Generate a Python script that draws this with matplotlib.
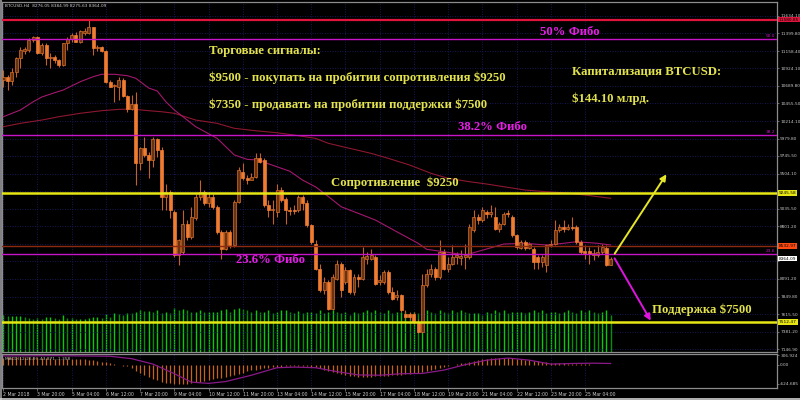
import matplotlib
matplotlib.use('Agg')
import matplotlib.pyplot as plt
import matplotlib.transforms as mtransforms

W, H = 800, 400

# ---------------- data ----------------
opens = [10767, 10812, 10758, 10879, 11059, 11162, 11171, 11306, 11342, 11126,
         11239, 11059, 11081, 11036, 10969, 11261, 11324, 11373, 11283, 11405,
         11396, 11477, 11194, 11216, 11162, 10745, 10686, 10677, 10767, 10552,
         10372, 10439, 9645, 9847, 9757, 9689, 9968, 9824, 9196, 9263,
         8994, 8410, 8455, 8836, 8657, 8904, 9196, 9263, 9106, 9196,
         9061, 8724, 8500, 8724, 8545, 9128, 9532, 9443, 9420, 9465,
         9712, 9689, 9083, 9016, 8994, 9285, 9173, 9025, 9016, 9016,
         9187, 9106, 8814, 8567, 8230, 7938, 8051, 7691, 8096, 8298,
         8051, 8208, 7916, 8118, 8096, 8365, 8365, 8387, 8051, 8051,
         8185, 7916, 7849, 7871, 7624, 7615, 7615, 7512, 7377, 8006,
         8163, 8230, 8118, 8455, 8230, 8298, 8387, 8378, 8387, 8387,
         8747, 8926, 8881, 8994, 8962, 8926, 8769, 8836, 8971, 8926,
         8679, 8513, 8589, 8513, 8500, 8387, 8320, 8275, 8545, 8567,
         8747, 8791, 8769, 8791, 8791, 8589, 8468, 8468, 8410, 8410,
         8455, 8513, 8276.05]
highs = [10902, 10834, 10924, 11081, 11216, 11207, 11328, 11360, 11360, 11261,
         11261, 11126, 11104, 11045, 11270, 11351, 11396, 11418, 11441, 11463,
         11575, 11485, 11239, 11225, 11171, 10767, 10713, 10812, 10790, 10565,
         10565, 10610, 9869, 10004, 9802, 10004, 9981, 9869, 9375, 9285,
         9016, 8634, 9016, 8881, 9061, 9240, 9420, 9285, 9263, 9240,
         9083, 8747, 8747, 8747, 9151, 9600, 9645, 9487, 9510, 9779,
         9779, 9712, 9151, 9151, 9375, 9330, 9196, 9061, 9083, 9218,
         9218, 9151, 8836, 8612, 8298, 8118, 8073, 8163, 8342, 8320,
         8253, 8230, 8163, 8163, 8522, 8455, 8500, 8410, 8140, 8208,
         8208, 7983, 7938, 7893, 7669, 7647, 7647, 7557, 8163, 8230,
         8298, 8253, 8612, 8500, 8387, 8545, 8455, 8477, 8567, 8836,
         9016, 8971, 9061, 9016, 9083, 9061, 8859, 8994, 9016, 8949,
         8702, 8612, 8612, 8589, 8522, 8410, 8410, 8567, 8612, 8881,
         8836, 8881, 8836, 8926, 8814, 8612, 8545, 8522, 8500, 8545,
         8567, 8545, 8384.99]
lows = [10677, 10632, 10700, 10812, 10924, 11117, 11149, 11283, 11117, 11104,
        10969, 10924, 10992, 10947, 10956, 11171, 11283, 11274, 11270, 11373,
        11387, 11104, 11162, 11149, 10731, 10668, 10475, 10498, 10534, 10341,
        10363, 9353, 9555, 9734, 9443, 9600, 9734, 9016, 9016, 8904,
        8387, 8275, 8432, 8612, 8634, 8881, 9151, 9083, 9061, 9038,
        8702, 8365, 8477, 8513, 8522, 9106, 9420, 9375, 9443, 9443,
        9645, 9061, 8926, 8836, 8926, 9128, 8836, 8949, 8971, 8994,
        9016, 8791, 8567, 8208, 7916, 7893, 7669, 7669, 8073, 7849,
        8028, 7893, 7871, 7983, 8073, 8298, 8342, 8006, 8006, 8028,
        7893, 7804, 7804, 7647, 7557, 7543, 7489, 7364, 7364, 7983,
        8118, 8073, 8096, 8208, 8185, 8275, 8298, 8275, 8230, 8365,
        8724, 8836, 8859, 8904, 8926, 8747, 8724, 8814, 8926, 8657,
        8500, 8500, 8477, 8500, 8230, 8230, 8253, 8185, 8522, 8545,
        8724, 8724, 8747, 8747, 8567, 8432, 8365, 8298, 8342, 8387,
        8432, 8262, 8275.63]
closes = [10812, 10758, 10879, 11059, 11171, 11180, 11306, 11342, 11126, 11239,
          11059, 11081, 11036, 10969, 11261, 11315, 11373, 11283, 11427, 11432,
          11477, 11194, 11216, 11162, 10745, 10677, 10700, 10767, 10552, 10372,
          10439, 9645, 9847, 9757, 9689, 9968, 9824, 9196, 9263, 9016,
          8410, 8612, 8836, 8657, 8926, 9196, 9263, 9106, 9196, 9061,
          8724, 8500, 8724, 8545, 9128, 9555, 9443, 9420, 9465, 9712,
          9667, 9083, 9016, 9038, 9285, 9151, 9016, 9007, 9007, 9187,
          9106, 8814, 8589, 8230, 7938, 8051, 7691, 8118, 8298, 7938,
          8208, 7916, 8118, 8096, 8387, 8396, 8410, 8028, 8073, 8185,
          7916, 7826, 7871, 7669, 7579, 7579, 7512, 7377, 8006, 8163,
          8230, 8118, 8455, 8230, 8298, 8387, 8410, 8396, 8410, 8791,
          8926, 8881, 9025, 8962, 8994, 8769, 8836, 8971, 8962, 8679,
          8522, 8589, 8513, 8567, 8320, 8320, 8387, 8545, 8567, 8747,
          8791, 8769, 8791, 8782, 8589, 8455, 8441, 8432, 8441, 8455,
          8522, 8275, 8364.09]
volumes = [11100, 10800, 10800, 10800, 10800, 10400, 10100, 9800, 10100, 9800,
           10400, 10400, 10100, 9800, 11100, 10100, 10100, 9800, 9800, 9800,
           10100, 10600, 10600, 10100, 11400, 10600, 11600, 11400, 11100, 11800,
           11600, 12100, 12600, 12300, 12300, 12100, 12600,
           11600, 12100, 11600, 13100, 12600, 12800, 12600, 12100, 12100, 12600,
           12100, 12100, 12100, 12100, 12600, 12800, 12100, 12800, 13100, 12800,
           12600, 12100, 12600, 12100, 12100, 12600, 11600, 12100, 12600, 12600,
           12100, 11600, 12300, 11600, 12100, 12100,
           11600, 12600, 11600, 12100, 12600, 12100, 11600, 12100, 11100, 12100,
           11600, 12100, 12600, 12100, 12600, 12100, 11600, 12600, 11600, 12100,
           12100, 12100, 11600, 12100, 11600, 12100, 12600, 12100, 11600, 12600,
           12100, 11600, 12600, 12100, 12600, 12100, 11600,
           11600, 11600, 11100, 12100, 11600, 12600, 12100, 12600, 11600, 12100,
           12100, 12100, 11600, 12100, 12600, 12100, 12600, 11600, 12100, 12100,
           11600, 12100, 12600, 12100, 11600, 12600, 12100, 12600, 12100, 11600,
           12100, 12600, 11100]

# moving averages read at sample bars
ma_fast_bars = [0, 4, 7, 9, 12, 14, 18, 21, 23, 26, 29, 31, 34, 36, 38, 40, 42, 45, 50,
                54, 57, 60, 62, 67, 70, 73, 76, 79, 84, 87, 92, 97, 99, 103, 108, 113,
                117, 122, 127, 131, 134, 139, 142]
ma_fast_vals = [10274, 10364, 10476, 10539, 10597, 10633, 10745, 10812, 10845, 10845,
                10826, 10791, 10660, 10620, 10476, 10364, 10274, 10139, 9983, 9760,
                9700, 9690, 9640, 9540, 9420, 9330, 9200, 9062, 8951, 8883, 8726,
                8570, 8489, 8457, 8412, 8493, 8560, 8570, 8547, 8570, 8591, 8570, 8547]
ma_slow_bars = [0, 4, 9, 13, 18, 23, 27, 30, 34, 37, 40, 45, 50, 54, 59, 64, 68, 73,
                76, 81, 86, 90, 95, 100, 104, 109, 113, 117, 122, 127, 131, 136, 142]
ma_slow_vals = [10139, 10185, 10229, 10274, 10320, 10355, 10373, 10377, 10355, 10341,
                10320, 10229, 10185, 10118, 10085, 10058, 10027, 9983, 9916, 9848,
                9781, 9714, 9624, 9512, 9445, 9399, 9368, 9332, 9287, 9264, 9251,
                9220, 9176]

# MACD histogram per bar and signal line at sample bars
macd_hist = [230, 240, 245, 250, 255, 250, 250, 245, 240,
             230, 220, 210, 205, 200, 200, 195, 195, 190, 185,
             175, 160, 140, 120, 100, 80,
             50, 20, 0, -30, -60, -100,
             -200, -280, -350, -420, -470, -520, -560, -600, -620,
             -640, -650, -640, -630, -610, -590, -560,
             -530, -500, -470, -450, -430, -400, -370, -340, -300,
             -260, -220, -190, -160, -130, -110, -100,
             -90, -80, -70, -60, -60, -60, -55, -55, -60, -70, -90,
             -120, -160, -200, -240, -270, -300, -330, -360, -380, -400, -410, -410,
             -400, -390, -380, -370, -360, -350, -340, -330,
             -320, -300, -280, -260, -230, -200, -170,
             -140, -110, -80, -50, -20,
             10, 40, 70, 100, 130, 160, 180, 200, 215, 225, 230, 230, 225, 215, 200,
             185, 170, 150, 130,
             110, 95, 80, 65, 55, 45, 40, 35, 30,
             25, 20, 15, 10, 5, 0, -5, -10, -15]
sig_bars = [0, 12, 25, 30, 35, 40, 44, 48, 52, 58, 64, 68, 73, 78, 83, 88, 93, 98,
            103, 108, 113, 118, 123, 128, 133, 138, 142]
sig_vals = [290, 300, 280, 200, 20, -300, -580, -620, -560, -350, -100, -80, -100,
            -230, -340, -350, -300, -290, -180, 0, 150, 220, 150, 20, 40, 50, 40]

time_tick_bars = [0, 8, 16, 24, 32, 40, 48, 56, 64, 72, 80, 88, 96, 104, 112, 120, 128, 136]
time_tick_labels = ['2 Mar 2018', '3 Mar 20:00', '5 Mar 04:00', '6 Mar 12:00', '7 Mar 20:00',
                    '9 Mar 04:00', '10 Mar 12:00', '11 Mar 20:00', '13 Mar 04:00',
                    '14 Mar 12:00', '15 Mar 20:00', '17 Mar 04:00', '18 Mar 12:00',
                    '19 Mar 20:00', '21 Mar 04:00', '22 Mar 12:00', '23 Mar 20:00',
                    '25 Mar 04:00']
price_ticks = [11634.10, 11399.80, 11158.40, 10924.10, 10689.80, 10455.50, 10214.10,
               9979.80, 9745.50, 9504.10, 9270.00, 9035.50, 8801.20, 8566.90, 8325.50,
               8091.20, 7849.80, 7615.50, 7381.20, 7146.90]
hidden_ticks = [9270.00, 8566.90, 8325.50]

level_top = 11580.85
fib_50 = 11320
fib_382 = 10027
fib_236 = 8430
resistance = 9245.58
support = 7512.47
ref_level = 8532.97
last_price = 8364.09
buy_target = 9530
sell_target = 7497

# ---------------- figure ----------------
fig = plt.figure(figsize=(8, 4), dpi=100, facecolor='black')
small_font = 'DejaVu Sans'
SMALL = 3.05


def fx(x):
    return x / W


def fy(y):
    return 1 - y / H


main_l, main_r, main_t, main_b = 2, 777, 2, 352
ax = fig.add_axes([fx(main_l), fy(main_b), fx(main_r - main_l), (main_b - main_t) / H])
vax = ax.twinx()
ax.set_zorder(2)
vax.set_zorder(1)
ax.patch.set_visible(False)
vax.patch.set_facecolor('black')

mac_t, mac_b = 354, 388
ax2 = fig.add_axes([fx(main_l), fy(mac_b), fx(main_r - main_l), (mac_b - mac_t) / H])
ax2.set_facecolor('black')

XLIM = (-0.3, 180.9)
n = len(closes)
idx = list(range(n))

# volumes
vcols = []
for i, v in enumerate(volumes):
    vcols.append('#00d000' if (i == 0 or v >= volumes[i - 1]) else '#009400')
vax.vlines(idx, 0, volumes, colors=vcols, lw=1.0)
vax.set_ylim(0, 105000)
vax.set_yticks([])
vax.set_xlim(*XLIM)

# candles
wick_col = '#c0622a'
ax.vlines(idx, lows, highs, colors=wick_col, lw=0.8, zorder=3)
for i in idx:
    o, c = opens[i], closes[i]
    bot = min(o, c)
    hgt = max(abs(c - o), 12)
    if c >= o:
        fc, ec = '#6a3210', '#d8702c'
    else:
        fc, ec = '#f07c32', '#f07c32'
    ax.bar(i, hgt, bottom=bot, width=0.7, facecolor=fc, edgecolor=ec, lw=0.5, zorder=4)

# moving averages
ax.plot(ma_slow_bars, ma_slow_vals, color='#8c1830', lw=0.8, zorder=3)
ax.plot(ma_fast_bars, ma_fast_vals, color='#a3186e', lw=0.8, zorder=3)

# horizontal levels
ax.axhline(level_top, color='#e0143c', lw=1.6, zorder=5)
for lv in (fib_50, fib_382, fib_236):
    ax.axhline(lv, color='#c814c8', lw=1.0, zorder=5)
ax.axhline(ref_level, color='#8b2a10', lw=1.0, zorder=5)
ax.axhline(resistance, color='#e6e614', lw=1.8, zorder=5)
ax.axhline(support, color='#e6e614', lw=1.8, zorder=5)

ax.set_xlim(*XLIM)
ax.set_ylim(7107, 11818)

# grid
grid_col = '#1f1f70'
ax.set_yticks(price_ticks)
ax.set_yticklabels(['' if p in hidden_ticks else f'{p:.2f}' for p in price_ticks])
ax.set_xticks(time_tick_bars)
ax.set_xticklabels([])
ax.grid(True, color=grid_col, linestyle=(0, (1, 2)), lw=0.6)
ax.yaxis.tick_right()
ax.tick_params(axis='y', colors='#909090', labelcolor='#c8c8c8', labelsize=SMALL,
               length=1.5, width=0.5, pad=0.8)
ax.tick_params(axis='x', length=0)
for s in ax.spines.values():
    s.set_color('#8c8c8c')
    s.set_linewidth(0.9)
for s in vax.spines.values():
    s.set_visible(False)

# fib small labels
blend = mtransforms.blended_transform_factory(ax.transAxes, ax.transData)
for lv, t in ((fib_50, '50.0'), (fib_382, '38.2'), (fib_236, '23.6')):
    ax.text(0.998, lv + 15, t, transform=blend, ha='right', va='bottom', fontsize=SMALL,
            color='#c814c8', zorder=6, family=small_font)

# highlighted price labels
for lv, txt, fc in ((level_top, f'{level_top:.2f}', '#e0143c'),
                    (resistance, f'{resistance:.2f}', '#e6e614'),
                    (ref_level, f'{ref_level:.2f}', '#ff4a10'),
                    (last_price, f'{last_price:.2f}', '#ffffff'),
                    (support, f'{support:.2f}', '#e6e614')):
    ax.text(1.0025, lv, txt, transform=blend, ha='left', va='center', fontsize=SMALL,
            color='black', clip_on=False, zorder=10, family=small_font,
            bbox=dict(facecolor=fc, edgecolor='none', boxstyle='square,pad=0.2'))

# arrows
ax.annotate('', xy=(155.4, buy_target), xytext=(142.6, 8400),
            arrowprops=dict(arrowstyle='-|>', color='#e6e628', lw=1.4, mutation_scale=9),
            zorder=7)
ax.annotate('', xy=(151.7, sell_target), xytext=(142.6, 8400),
            arrowprops=dict(arrowstyle='-|>', color='#e014e0', lw=1.4, mutation_scale=9),
            zorder=7)

# annotations text
serif = ['Liberation Serif', 'DejaVu Serif']
ylw = '#e2e24e'
mag = '#e61ee6'


def ftxt(x, y, s, color, size=9.2, ha='left'):
    fig.text(fx(x), fy(y), s, color=color, fontsize=size, family=serif,
             fontweight='bold', ha=ha, va='center', zorder=20, parse_math=False)


ftxt(209, 51, 'Торговые сигналы:', ylw)
ftxt(209, 78, '$9500 - покупать на пробитии сопротивления $9250', ylw)
ftxt(209, 105, '$7350 - продавать на пробитии поддержки $7500', ylw)
ftxt(572, 72, 'Капитализация BTCUSD:', ylw)
ftxt(572, 99, '$144.10 млрд.', ylw)
ftxt(570, 32, '50% Фибо', mag, ha='center')
ftxt(493, 127, '38.2% Фибо', mag, ha='center')
ftxt(395, 183, 'Сопротивление  $9250', ylw, ha='center')
ftxt(270, 260, '23.6% Фибо', mag, ha='center')
ftxt(702, 310, 'Поддержка $7500', ylw, ha='center')

fig.text(fx(5), fy(6), 'BTCUSD,H4  8276.05 8384.99 8275.63 8364.09', color='#d0d0d0',
         fontsize=SMALL, va='center', ha='left', family=small_font)

# MACD panel
ax2.vlines(idx, 0, macd_hist, colors='#c8641a', lw=0.9)
ax2.plot(sig_bars, sig_vals, color='#8a1a8a', lw=0.9)
ax2.set_xlim(*XLIM)
ax2.set_ylim(-774, 355)
ax2.set_yticks([306.924, 0, -624.685])
ax2.set_yticklabels(['306.924', '0.00', '-624.685'])
ax2.yaxis.tick_right()
ax2.set_xticks(time_tick_bars)
ax2.set_xticklabels(time_tick_labels)
for lbl in ax2.get_xticklabels():
    lbl.set_ha('left')
ax2.grid(True, axis='x', color=grid_col, linestyle=(0, (1, 2)), lw=0.6)
ax2.tick_params(axis='y', colors='#909090', labelcolor='#c8c8c8', labelsize=SMALL,
                length=1.5, width=0.5, pad=0.8)
ax2.tick_params(axis='x', colors='#909090', labelcolor='#c8c8c8', labelsize=SMALL + 0.3,
                length=2, width=0.5, pad=1.2)
for s in ax2.spines.values():
    s.set_color('#8c8c8c')
    s.set_linewidth(0.9)
ax2.text(0.004, 0.86, 'MACD(12,26,9) -43.871 -1.358', transform=ax2.transAxes,
         fontsize=SMALL, color='#c0c0c0', ha='left', va='center', family=small_font)

# outer frame
fig.add_artist(plt.Line2D([fx(0.5), fx(0.5)], [0, 1], color='#9a9a9a', lw=1.2))
fig.add_artist(plt.Line2D([0, 1], [fy(399), fy(399)], color='#d0d0d0', lw=1.2))

fig.savefig('out.png', dpi=100, facecolor='black')
